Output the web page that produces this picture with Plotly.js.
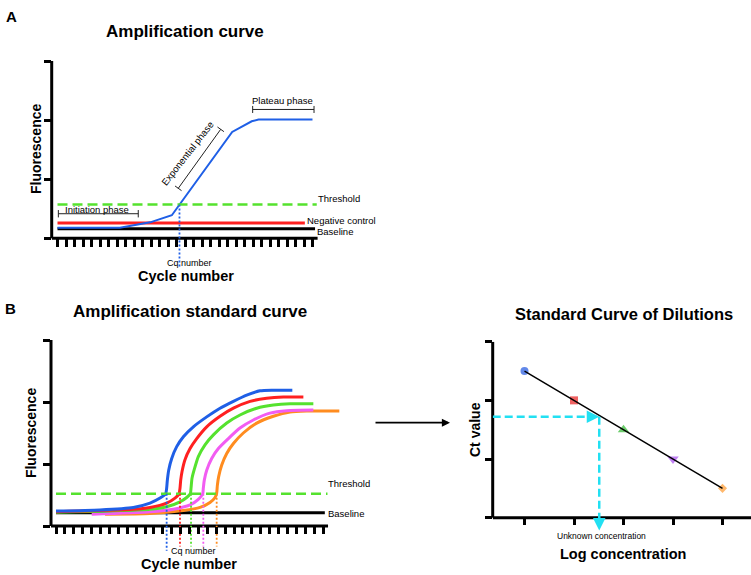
<!DOCTYPE html>
<html><head><meta charset="utf-8">
<script src="https://cdn.plot.ly/plotly-3.0.1.min.js"></script>
<style>html,body{margin:0;padding:0;background:#fff;}#chart{width:751px;height:575px;}</style>
</head><body><div id="chart"></div>
<script>
// ================= DATA =================
// Panel A – amplification curve (x: cycle, y: fluorescence)
const cycleTicks = [0,1,2,3,4,5,6,7,8,9,10,11,12,13,14,15,16,17,18,19,20,21,22,23,24,25,26,27,28,29,30];
const fluorTicks = [0,1,2,3];
const aSampleX = [0, 7.35, 10.9, 13.45, 20.55, 22.85, 23.65, 30];
const aSampleY = [0.18, 0.18, 0.27, 0.39, 1.80, 1.98, 2.01, 2.01];
const aNegX = [0, 29.1];
const aNegY = [0.26, 0.26];
const aBaseX = [0, 30.3];
const aBaseY = [0.16, 0.16];
const aThrX = [0, 30.5];
const aThrY = [0.57, 0.57];
const aCqX = [14.35, 14.35];
const aCqY = [0.57, -0.50];

// Panel B – standard amplification curves of a dilution series
const bBlueX = [0, 4.94, 8.69, 10.56, 11.69, 12.32, 12.43, 12.51, 12.66, 13.0, 13.56, 14.31, 15.43, 16.93, 18.43, 19.93, 21.42, 22.92, 24.42, 26.55];
const bBlueY = [0.24, 0.26, 0.30, 0.37, 0.45, 0.52, 0.61, 0.74, 0.90, 1.09, 1.28, 1.44, 1.60, 1.76, 1.90, 2.01, 2.11, 2.18, 2.19, 2.19];
const bRedX = [0, 8.69, 10.56, 12.43, 13.37, 13.82, 13.93, 14.01, 14.16, 14.49, 15.06, 15.81, 16.93, 18.43, 19.93, 21.80, 23.67, 25.54, 27.79];
const bRedY = [0.23, 0.27, 0.30, 0.37, 0.45, 0.52, 0.61, 0.74, 0.88, 1.07, 1.25, 1.41, 1.60, 1.77, 1.90, 2.01, 2.06, 2.08, 2.08];
const bGreenX = [0, 10.56, 12.43, 13.93, 14.68, 15.09, 15.17, 15.28, 15.51, 15.99, 16.74, 17.68, 19.18, 20.67, 22.55, 24.42, 26.29, 28.91];
const bGreenY = [0.22, 0.27, 0.31, 0.39, 0.46, 0.52, 0.61, 0.77, 0.90, 1.12, 1.31, 1.47, 1.66, 1.79, 1.90, 1.95, 1.97, 1.97];
const bMagX = [4.01, 10.56, 13.18, 15.06, 15.99, 16.48, 16.55, 16.66, 16.93, 17.49, 18.24, 19.36, 20.67, 22.17, 24.04, 25.92, 28.91];
const bMagY = [0.19, 0.23, 0.27, 0.34, 0.43, 0.52, 0.61, 0.74, 0.90, 1.09, 1.25, 1.41, 1.58, 1.71, 1.82, 1.86, 1.87];
const bOrX = [5.51, 10.56, 14.31, 16.18, 17.30, 17.87, 18.05, 18.13, 18.28, 18.61, 19.18, 19.93, 21.04, 22.55, 24.42, 26.29, 28.17, 31.83];
const bOrY = [0.19, 0.20, 0.25, 0.30, 0.38, 0.46, 0.53, 0.66, 0.80, 0.98, 1.17, 1.33, 1.50, 1.66, 1.77, 1.84, 1.855, 1.855];
const bBaseX = [0, 30.2];
const bBaseY = [0.215, 0.215];
const bThrX = [0, 30.5];
const bThrY = [0.52, 0.52];
const bCq = [12.43, 13.93, 15.17, 16.55, 18.05];
const bCqTop = 0.52;
const bCqBottom = [-0.40, -0.33, -0.33, -0.33, -0.33];

// Panel C – standard curve of dilutions
const logConc = [1, 2, 3, 4, 5];
const ctValues = [2.5, 2.0, 1.5, 1.0, 0.5];
const fitX = [1, 5];
const fitY = [2.5, 0.5];
const unknownLog = 2.51;
const unknownCt = 1.72;
const unknownArrowEnd = -0.22;

// ================= STYLE / LAYOUT =================
const W = 751, H = 575;
const FONT = 'Liberation Sans, Arial, Helvetica, sans-serif';
const C = {blue:'#1f5fe6', red:'#ff2020', green:'#55e22e', magenta:'#f25cf2', orange:'#ff8c1f',
           cyan:'#22e0f2', purple:'#a64cf0', cBlue:'#1f55e0', cRed:'#e82020', cGreen:'#2fb82f', cOrange:'#ff9a2e'};
const X = p => p / W, Y = p => 1 - p / H;

const rangeA = {x:[-0.682, 31.47], y:[-0.570, 3]};
const rangeB = {x:[-0.562, 32.13], y:[-0.5, 3]};
const rangeC = {x:[0.3576, 5.5758], y:[-0.4483, 3]};

function ln(x, y, ax, color, width, dash, extra) {
  return Object.assign({type:'scatter', mode:'lines', x, y, xaxis:'x'+ax, yaxis:'y'+ax,
    line:{color, width, dash: dash || 'solid'}, hoverinfo:'skip', showlegend:false}, extra || {});
}
const spline = c => ({line:{color:c, width:3, shape:'spline', smoothing:0.6}});

const traces = [
  // A
  ln(aBaseX, aBaseY, '', '#000', 3),
  ln(aNegX, aNegY, '', C.red, 3),
  ln(aSampleX, aSampleY, '', C.blue, 2),
  ln(aThrX, aThrY, '', C.green, 2.5, '10px,5px'),
  ln(aCqX, aCqY, '', C.blue, 1.8, '2px,2px'),
  // B
  ln(bBaseX, bBaseY, '2', '#000', 3),
  ln(bOrX, bOrY, '2', C.orange, 3, null, spline(C.orange)),
  ln(bMagX, bMagY, '2', C.magenta, 3, null, spline(C.magenta)),
  ln(bGreenX, bGreenY, '2', C.green, 3, null, spline(C.green)),
  ln(bRedX, bRedY, '2', C.red, 3, null, spline(C.red)),
  ln(bBlueX, bBlueY, '2', C.blue, 3, null, spline(C.blue)),
  ln(bThrX, bThrY, '2', C.green, 2.5, '10px,5px'),
];
const cqCols = [C.blue, C.red, C.green, C.magenta, C.orange];
bCq.forEach((q, i) => traces.push(ln([q, q], [bCqTop, bCqBottom[i]], '2', cqCols[i], 1.8, '2px,2px')));
// C
traces.push({type:'scatter', mode:'markers', x:logConc, y:ctValues, xaxis:'x3', yaxis:'y3',
  cliponaxis:false, hoverinfo:'skip', showlegend:false,
  marker:{symbol:['circle','square','triangle-up','triangle-down','diamond'],
          color:[C.cBlue, C.cRed, C.cGreen, C.purple, C.cOrange], size:[8,8,10,10,7], line:{width:0}}});
traces.push(ln(fitX, fitY, '3', '#000', 1.5));
traces.push(ln([rangeC.x[0], unknownLog], [unknownCt, unknownCt], '3', C.cyan, 2.5, '8px,4px'));
traces.push(ln([unknownLog, unknownLog], [unknownCt, unknownArrowEnd + 0.1], '3', C.cyan, 2.5, '8px,4px'));

const tickBase = {ticks:'outside', tickcolor:'#000', tickwidth:3, showticklabels:false,
  showgrid:false, zeroline:false, showline:false, fixedrange:true};

const layout = {
  width: W, height: H, margin:{l:0, r:0, t:0, b:0},
  paper_bgcolor:'#fff', plot_bgcolor:'rgba(0,0,0,0)', showlegend:false,
  xaxis: Object.assign({}, tickBase, {domain:[X(51.7), X(325)], range:rangeA.x, anchor:'free', position:Y(238.3), tickvals:cycleTicks, ticklen:8}),
  yaxis: Object.assign({}, tickBase, {domain:[Y(272), Y(61)], range:rangeA.y, anchor:'x', tickvals:fluorTicks, ticklen:7}),
  xaxis2: Object.assign({}, tickBase, {domain:[X(51), X(342)], range:rangeB.x, anchor:'free', position:Y(526), tickvals:cycleTicks, ticklen:6.5}),
  yaxis2: Object.assign({}, tickBase, {domain:[Y(557), Y(340)], range:rangeB.y, anchor:'x2', tickvals:fluorTicks, ticklen:7.5}),
  xaxis3: Object.assign({}, tickBase, {domain:[X(492.7), 1], range:rangeC.x, anchor:'free', position:Y(517.7), tickvals:logConc, ticklen:6}),
  yaxis3: Object.assign({}, tickBase, {domain:[Y(544), Y(341.7)], range:rangeC.y, anchor:'x3', tickvals:fluorTicks, ticklen:7}),
  shapes: [], annotations: []
};

// axis lines (drawn as shapes so the plotting area can extend below the x axis)
function axisLines(ax, xEnd) {
  layout.shapes.push({type:'line', layer:'below', xref:'x'+ax+' domain', yref:'y'+ax, x0:0, x1:0, y0:0, y1:3, line:{color:'#000', width:3}});
  const xr = ax === '' ? rangeA.x : ax === '2' ? rangeB.x : rangeC.x;
  layout.shapes.push({type:'line', layer:'below', xref:'x'+ax, yref:'y'+ax, x0:xr[0], x1:xEnd, y0:0, y1:0, line:{color:'#000', width:3}});
}
axisLines('', 30.6);
axisLines('2', 30.56);
axisLines('3', rangeC.x[1]);

// brackets in panel A
const sxA = 8.5, syA = 59.1; // px per unit
function bracket(x0, y0, x1, y1, cap) {
  const dxp = (x1 - x0) * sxA, dyp = -(y1 - y0) * syA, L = Math.hypot(dxp, dyp);
  const px = -dyp / L * cap, py = dxp / L * cap;
  const seg = (a, b, c, d) => layout.shapes.push({type:'line', xref:'x', yref:'y', x0:a, y0:b, x1:c, y1:d, line:{color:'#222', width:1}});
  seg(x0, y0, x1, y1);
  [[x0, y0], [x1, y1]].forEach(([x, y]) => seg(x - px / sxA, y + py / syA, x + px / sxA, y - py / syA));
}
bracket(0.1, 0.416, 9.5, 0.416, 3.7);
bracket(22.96, 2.18, 30.18, 2.18, 3.5);
bracket(14.21, 0.846, 19.2, 1.844, 4);

// text
function label(text, x, y, size, o) {
  layout.annotations.push(Object.assign({xref:'paper', yref:'paper', x:X(x), y:Y(y), text, showarrow:false,
    font:{family:FONT, size, color:'#000'}, xanchor:'center', yanchor:'middle', borderpad:0, borderwidth:0}, o || {}));
}
const L = {xanchor:'left'};
label('<b>A</b>', 11.7, 16.7, 15);
label('<b>Amplification curve</b>', 185, 32, 17);
label('<b>Fluorescence</b>', 35.8, 149.2, 14, {textangle:-90});
label('<b>Cycle number</b>', 185.8, 275.8, 14.5);
label('Cq number', 189, 263, 9);
label('Threshold', 318, 198.3, 9.5, L);
label('Negative control', 307, 220.3, 9.5, L);
label('Baseline', 317, 231.2, 9.5, L);
label('Initiation phase', 96.7, 209, 9.5);
label('Plateau phase', 282.7, 100.3, 9.5);
label('Exponential phase', 187.5, 154, 9.5, {textangle:-52});

label('<b>B</b>', 10.8, 308.3, 15);
label('<b>Amplification standard curve</b>', 189.5, 311, 17);
label('<b>Fluorescence</b>', 30.8, 433.3, 14, {textangle:-90});
label('<b>Cycle number</b>', 189, 564, 14.5);
label('Cq number', 193.3, 551, 9);
label('Threshold', 328, 483, 9.5, L);
label('Baseline', 328, 513.3, 9.5, L);

label('<b>Standard Curve of Dilutions</b>', 623.5, 314, 16.5);
label('<b>Ct value</b>', 475, 430, 14, {textangle:-90});
label('<b>Log concentration</b>', 623.3, 553.7, 14.5);
label('Unknown concentration', 601.7, 536, 8.5);

// arrows
layout.annotations.push({xref:'x3', yref:'y3', x:unknownLog, y:unknownCt, ax:-13, ay:0, text:'', showarrow:true,
  arrowhead:2, arrowsize:1, arrowwidth:2.5, arrowcolor:C.cyan, standoff:0});
layout.annotations.push({xref:'x3', yref:'y3', x:unknownLog, y:unknownArrowEnd, ax:0, ay:-13, text:'', showarrow:true,
  arrowhead:2, arrowsize:1, arrowwidth:2.5, arrowcolor:C.cyan, standoff:0});
layout.annotations.push({xref:'paper', yref:'paper', x:X(450), y:Y(422.7), ax:-76, ay:0, text:'', showarrow:true,
  arrowhead:2, arrowsize:0.9, arrowwidth:1.8, arrowcolor:'#000', standoff:0});

Plotly.newPlot('chart', traces, layout, {displayModeBar:false, staticPlot:true});
</script></body></html>
